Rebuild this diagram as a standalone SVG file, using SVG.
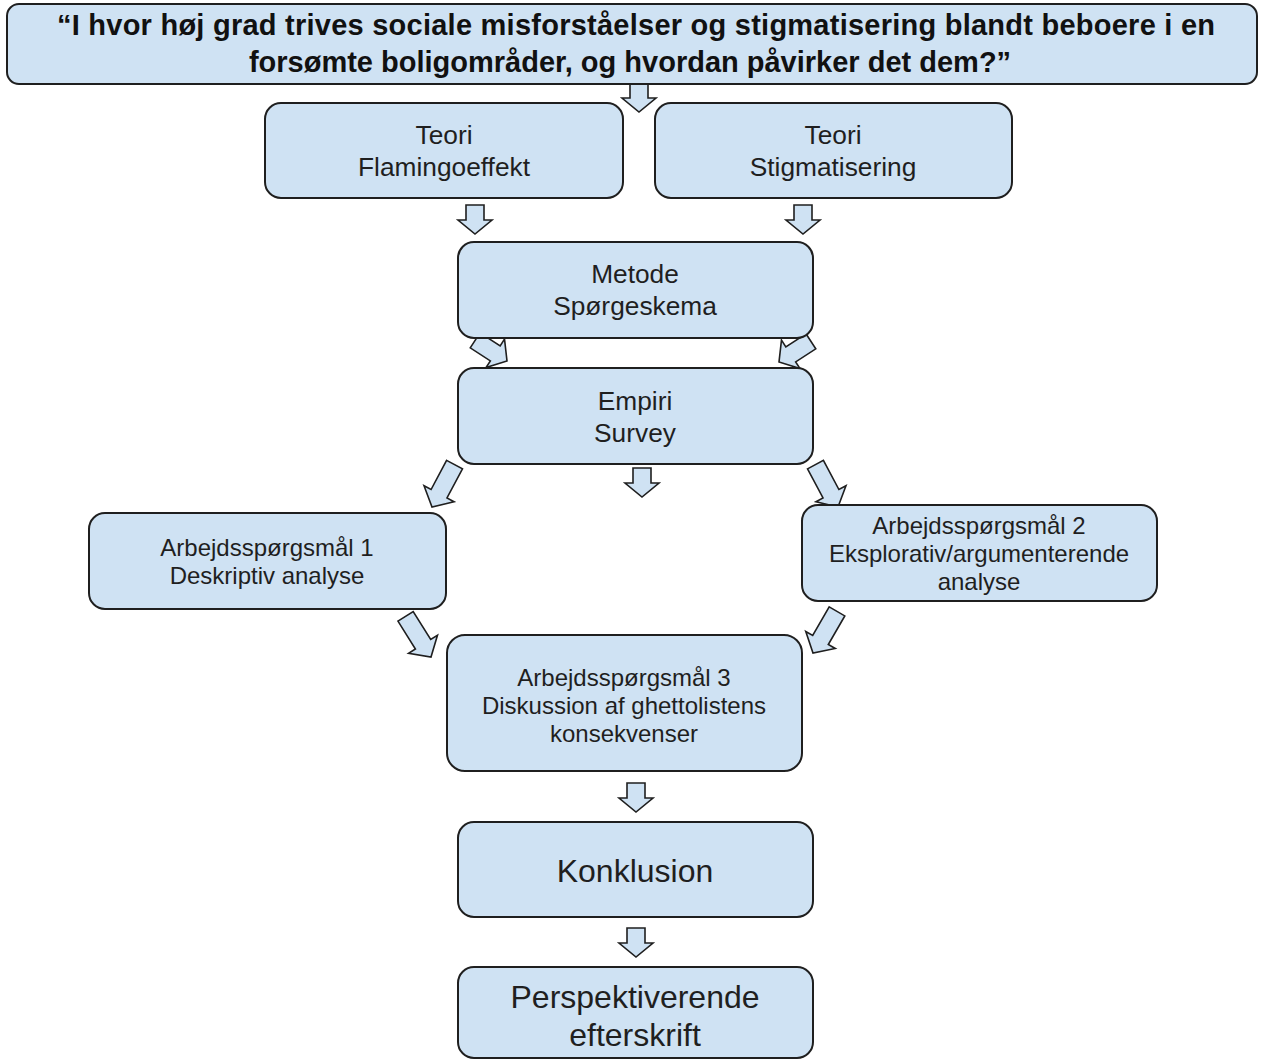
<svg xmlns="http://www.w3.org/2000/svg" width="1265" height="1061" viewBox="0 0 1265 1061">
<defs>
<style>
.box{fill:#cfe2f3;stroke:#1f1f1f;stroke-width:2}
.arr{fill:#cfe2f3;stroke:#1f1f1f;stroke-width:1.6;stroke-linejoin:miter}
text{font-family:"Liberation Sans",Arial,sans-serif;fill:#1f1f1f;text-anchor:middle}
.title{font-size:29px;font-weight:bold;fill:#111}
.t26{font-size:26.3px}
.t24{font-size:24px}
.t32{font-size:32px}
</style>
<path id="ad" d="M -9,-29 H 9 V -14 H 17 L 0,0 L -17,-14 H -9 Z"/>
<path id="adm" d="M -9,-38 H 9 V -14 H 17 L 0,0 L -17,-14 H -9 Z"/>
<path id="adl" d="M -9,-48 H 9 V -15 H 17 L 0,0 L -17,-15 H -9 Z"/>
</defs>
<rect width="1265" height="1061" fill="#fff"/>
<g id="connectors">
<use href="#ad" class="arr" transform="translate(639,112)"/>
<use href="#ad" class="arr" transform="translate(475,234)"/>
<use href="#ad" class="arr" transform="translate(803,234)"/>
<use href="#adm" class="arr" transform="translate(507,361) rotate(-57)"/>
<use href="#adm" class="arr" transform="translate(779,362) rotate(57)"/>
<use href="#ad" class="arr" transform="translate(642,497)"/>
<use href="#adl" class="arr" transform="translate(432,507) rotate(28)"/>
<use href="#adl" class="arr" transform="translate(838,507) rotate(-28)"/>
<use href="#adl" class="arr" transform="translate(431,657) rotate(-32)"/>
<use href="#adl" class="arr" transform="translate(813,653) rotate(30)"/>
<use href="#ad" class="arr" transform="translate(636,812)"/>
<use href="#ad" class="arr" transform="translate(636,957)"/>
</g>
<g id="question">
<rect class="box" x="7" y="4" width="1250" height="80" rx="12"/>
<text class="title" x="636" y="35" textLength="1158" lengthAdjust="spacing">“I hvor høj grad trives sociale misforståelser og stigmatisering blandt beboere i en</text>
<text class="title" x="630" y="72">forsømte boligområder, og hvordan påvirker det dem?”</text>
</g>
<g id="teori-flamingo">
<rect class="box" x="265" y="103" width="358" height="95" rx="16"/>
<text class="t26" x="444" y="144">Teori</text>
<text class="t26" x="444" y="176">Flamingoeffekt</text>
</g>
<g id="teori-stigma">
<rect class="box" x="655" y="103" width="357" height="95" rx="16"/>
<text class="t26" x="833" y="144">Teori</text>
<text class="t26" x="833" y="176">Stigmatisering</text>
</g>
<g id="metode">
<rect class="box" x="458" y="242" width="355" height="96" rx="16"/>
<text class="t26" x="635" y="283">Metode</text>
<text class="t26" x="635" y="315">Spørgeskema</text>
</g>
<g id="empiri">
<rect class="box" x="458" y="368" width="355" height="96" rx="16"/>
<text class="t26" x="635" y="410">Empiri</text>
<text class="t26" x="635" y="442">Survey</text>
</g>
<g id="as1">
<rect class="box" x="89" y="513" width="357" height="96" rx="16"/>
<text class="t24" x="267" y="556">Arbejdsspørgsmål 1</text>
<text class="t24" x="267" y="584">Deskriptiv analyse</text>
</g>
<g id="as2">
<rect class="box" x="802" y="505" width="355" height="96" rx="16"/>
<text class="t24" x="979" y="534">Arbejdsspørgsmål 2</text>
<text class="t24" x="979" y="562">Eksplorativ/argumenterende</text>
<text class="t24" x="979" y="590">analyse</text>
</g>
<g id="as3">
<rect class="box" x="447" y="635" width="355" height="136" rx="18"/>
<text class="t24" x="624" y="686">Arbejdsspørgsmål 3</text>
<text class="t24" x="624" y="714">Diskussion af ghettolistens</text>
<text class="t24" x="624" y="742">konsekvenser</text>
</g>
<g id="konklusion">
<rect class="box" x="458" y="822" width="355" height="95" rx="16"/>
<text class="t32" x="635" y="882">Konklusion</text>
</g>
<g id="perspektiv">
<rect class="box" x="458" y="967" width="355" height="91" rx="16"/>
<text class="t32" x="635" y="1008">Perspektiverende</text>
<text class="t32" x="635" y="1046">efterskrift</text>
</g>
</svg>
